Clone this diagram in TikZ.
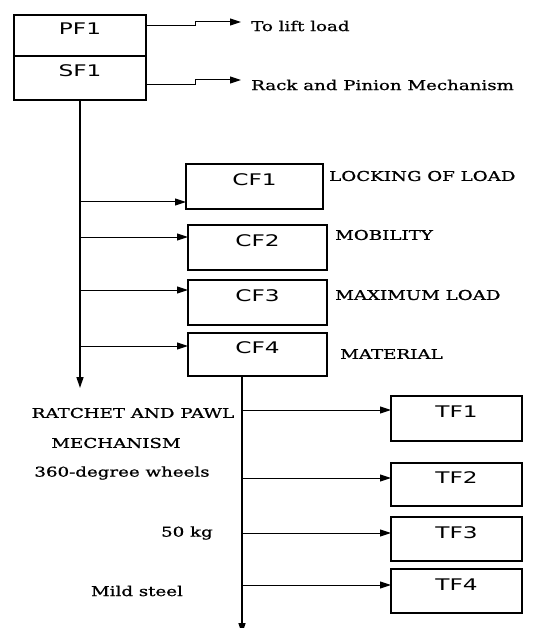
\documentclass[tikz,border=0pt]{standalone}
\usepackage{fontspec}
\usetikzlibrary{arrows.meta,positioning}
\newfontfamily\boxfont[FakeStretch=1.45]{DejaVu Sans}
\newfontfamily\notefont[FakeStretch=1.35,FakeBold=1]{DejaVu Serif}
\tikzset{
 funcbox/.style={
 rectangle,
 draw=black,
 line width=1.1pt,
 outer sep=0pt,
 inner sep=0pt,
 minimum width=139pt,
 minimum height=45pt,
 text height=11pt,
 text depth=13pt,
 font=\boxfont\fontsize{16}{16}\selectfont
 },
 topbox/.style={funcbox, minimum width=132pt},
 tfbox/.style={funcbox, minimum width=131pt},
 note/.style={inner sep=0pt, font=\notefont\fontsize{13.5}{13.5}\selectfont},
 flowarrow/.style={-{Triangle[length=11pt,width=7pt]}, line width=1pt, draw=black},
 trunk/.style={line width=1.5pt}
}
\begin{document}
\begin{tikzpicture}[x=1pt,y=-1pt]
 \useasboundingbox (0,0) rectangle (545,628);
 % top function block
 \node[topbox, minimum height=41pt] (pf1) at (80,35.5) {PF1};
 \node[topbox, minimum height=44pt, below=0pt of pf1] (sf1) {SF1};
 \node[note, anchor=west] (lift) at (251,26) {To lift load};
 \node[note, anchor=west] (rack) at (251,85) {Rack and Pinion Mechanism};
 \draw[flowarrow, shorten >=10pt] ([yshift=9.5pt]pf1.east) -- ++(49,0) |- ([yshift=4pt]lift.west);
 \draw[flowarrow, shorten >=10pt] ([yshift=-7pt]sf1.east) -- ++(49,0) |- ([yshift=5pt]rack.west);
 % complex functions
 \node[funcbox, minimum width=137pt] (cf1) at (254.5,186.5) {CF1};
 \node[funcbox] (cf2) at (257.5,247.5) {CF2};
 \node[funcbox] (cf3) at (257.5,302.5) {CF3};
 \node[funcbox, minimum height=43pt] (cf4) at (257.5,354.5) {CF4};
 \node[note, anchor=west] (lock) at (329,176) {LOCKING OF LOAD};
 \node[note, anchor=west] (mob) at (335,235) {MOBILITY};
 \node[note, anchor=west] (maxload) at (335,295) {MAXIMUM LOAD};
 \node[note, anchor=west] (mat) at (340,354) {MATERIAL};
 \coordinate (trunkend) at (80,388);
 \draw[flowarrow, trunk] (sf1.south) -- (trunkend);
 \foreach \n/\y in {1/202,2/237,3/290,4/346} {
 \coordinate (c\n) at (80,\y);
 \draw[flowarrow] (c\n) -- (c\n -| cf\n.west);
 }
 % technical functions
 \node[tfbox] (tf1) at (456.5,418.5) {TF1};
 \node[tfbox, minimum height=43pt] (tf2) at (456.5,484.5) {TF2};
 \node[tfbox, minimum height=44pt] (tf3) at (456.5,539) {TF3};
 \node[tfbox, minimum height=44pt] (tf4) at (456.5,591) {TF4};
 \node[note] (ratchet) at (133,413) {RATCHET AND PAWL};
 \node[note] (mech) at (116,443) {MECHANISM};
 \node[note] (wheels) at (122,473) {360-degree wheels};
 \node[note, anchor=east] (kg) at (213,533) {50 kg};
 \node[note] (steel) at (137,591) {Mild steel};
 \coordinate (lowend) at (242,634);
 \draw[flowarrow, trunk] (cf4.south -| lowend) -- (lowend);
 \foreach \n/\y in {1/410,2/478,3/533,4/585} {
 \coordinate (t\n) at (242,\y);
 \draw[flowarrow] (t\n) -- (t\n -| tf\n.west);
 }
\end{tikzpicture}
\end{document}
